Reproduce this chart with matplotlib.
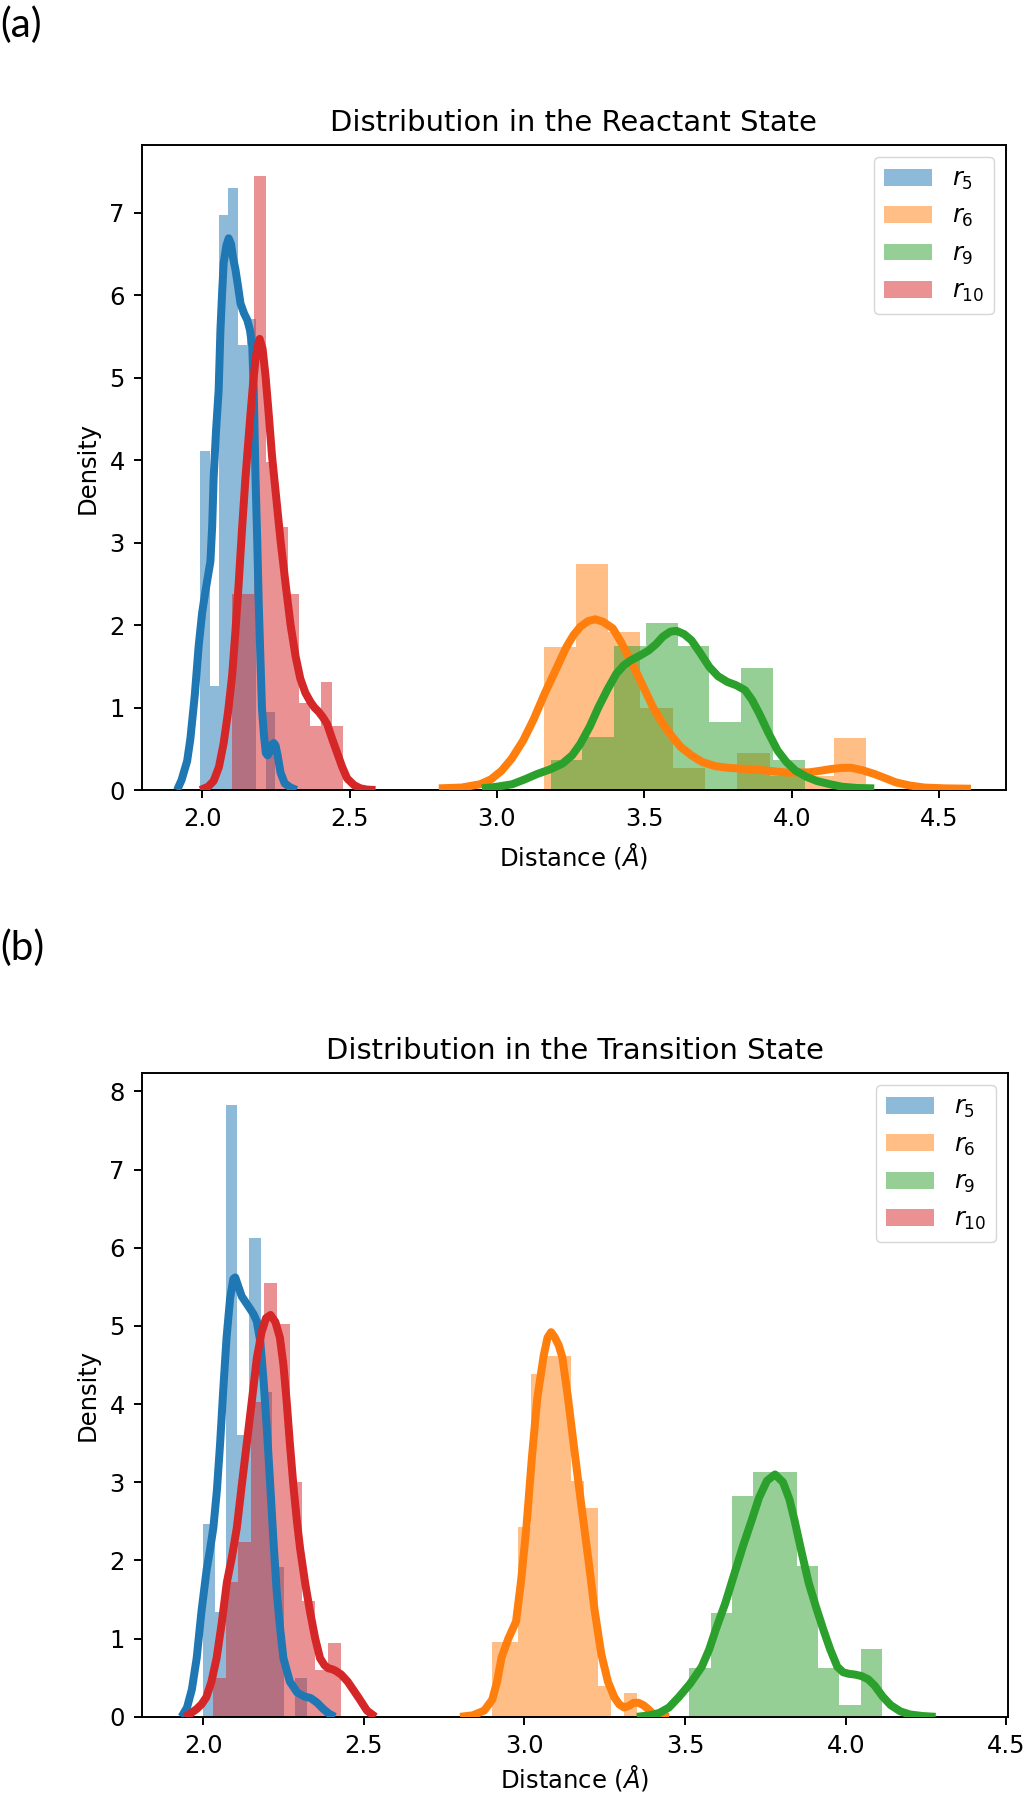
import matplotlib
matplotlib.use('Agg')
import matplotlib.pyplot as plt
import numpy as np

# original was drawn at ~174 dpi, we draw at 100 dpi
S = 1.743
plt.rcParams['font.family'] = ['DejaVu Sans']
plt.rcParams['font.size'] = 10 * S
plt.rcParams['axes.titlesize'] = 12 * S
plt.rcParams['axes.titlepad'] = 6 * S
plt.rcParams['axes.labelpad'] = 4 * S
plt.rcParams['axes.linewidth'] = 0.8 * S
plt.rcParams['legend.fontsize'] = 10 * S
for ax_name in ['xtick', 'ytick']:
    plt.rcParams[ax_name + '.major.size'] = 3.5 * S
    plt.rcParams[ax_name + '.major.width'] = 0.8 * S
    plt.rcParams[ax_name + '.major.pad'] = 3.5 * S

C5, C6, C9, C10 = '#1f77b4', '#ff7f0e', '#2ca02c', '#d62728'

# ===== (a) reactant state: histogram bin edges / densities =====
a_r5_edges = [1.994, 2.026, 2.057, 2.089, 2.121, 2.152, 2.184, 2.216, 2.247]
a_r5_dens = [4.11, 1.26, 6.97, 7.30, 5.39, 5.71, 0.0, 0.95]
a_r6_edges = [3.159, 3.268, 3.378, 3.487, 3.597, 3.706, 3.815, 3.925, 4.034, 4.144, 4.253]
a_r6_dens = [1.73, 2.735, 1.91, 1.00, 0.27, 0.0, 0.45, 0.17, 0.17, 0.63]
a_r9_edges = [3.182, 3.290, 3.398, 3.505, 3.613, 3.721, 3.829, 3.937, 4.044]
a_r9_dens = [0.365, 0.64, 1.75, 2.03, 1.75, 0.83, 1.475, 0.365]
a_r10_edges = [2.102, 2.140, 2.177, 2.215, 2.252, 2.290, 2.328, 2.365, 2.403, 2.440, 2.478]
a_r10_dens = [2.38, 2.38, 7.45, 3.98, 3.19, 2.38, 1.05, 0.78, 1.31, 0.78]

# kde curves
a_r5_kde_x = [1.915, 1.930, 1.949, 1.960, 1.975, 1.988, 2.000, 2.011, 2.020, 2.028, 2.034,
              2.039, 2.047, 2.056, 2.062, 2.068, 2.073, 2.082, 2.090, 2.098, 2.105, 2.113,
              2.122, 2.130, 2.142, 2.153, 2.162, 2.170, 2.175, 2.181, 2.187, 2.192, 2.198,
              2.203, 2.210, 2.216, 2.222, 2.230, 2.237, 2.243, 2.249, 2.256, 2.266, 2.280,
              2.300, 2.320]
a_r5_kde_y = [0.0, 0.12, 0.35, 0.62, 1.15, 1.74, 2.15, 2.41, 2.60, 2.77, 3.20,
              3.79, 4.35, 4.85, 5.58, 6.05, 6.39, 6.60, 6.69, 6.62, 6.45, 6.31,
              6.10, 5.90, 5.78, 5.70, 5.58, 5.38, 4.85, 3.79, 3.00, 2.26, 1.55,
              0.98, 0.65, 0.45, 0.42, 0.47, 0.55, 0.57, 0.54, 0.42, 0.21, 0.08,
              0.03, 0.0]
a_r6_kde_x = [2.803, 2.880, 2.943, 2.980, 3.016, 3.050, 3.089, 3.125, 3.162, 3.200, 3.235,
              3.260, 3.283, 3.310, 3.334, 3.360, 3.393, 3.420, 3.453, 3.478, 3.502, 3.530,
              3.563, 3.594, 3.624, 3.660, 3.696, 3.740, 3.782, 3.820, 3.867, 3.930, 3.988,
              4.061, 4.100, 4.134, 4.170, 4.201, 4.240, 4.280, 4.320, 4.353, 4.400, 4.450,
              4.520, 4.608]
a_r6_kde_y = [0.02, 0.03, 0.07, 0.13, 0.235, 0.38, 0.60, 0.86, 1.17, 1.46, 1.73,
              1.88, 1.98, 2.05, 2.07, 2.04, 1.96, 1.80, 1.57, 1.39, 1.21, 1.00,
              0.80, 0.65, 0.52, 0.42, 0.34, 0.29, 0.27, 0.26, 0.25, 0.23, 0.21,
              0.215, 0.235, 0.255, 0.268, 0.27, 0.24, 0.195, 0.14, 0.093, 0.055, 0.03,
              0.02, 0.016]
a_r9_kde_x = [2.949, 3.000, 3.052, 3.095, 3.137, 3.180, 3.222, 3.255, 3.283, 3.315, 3.344,
              3.375, 3.405, 3.430, 3.453, 3.485, 3.514, 3.540, 3.563, 3.588, 3.609, 3.635,
              3.660, 3.690, 3.721, 3.750, 3.782, 3.812, 3.842, 3.866, 3.891, 3.920, 3.952,
              3.982, 4.013, 4.050, 4.085, 4.130, 4.171, 4.220, 4.280]
a_r9_kde_y = [0.02, 0.04, 0.07, 0.13, 0.195, 0.25, 0.32, 0.42, 0.56, 0.77, 1.00,
              1.22, 1.41, 1.51, 1.57, 1.63, 1.69, 1.77, 1.86, 1.92, 1.93, 1.89,
              1.815, 1.66, 1.49, 1.38, 1.31, 1.27, 1.21, 1.09, 0.92, 0.70, 0.48,
              0.34, 0.235, 0.16, 0.11, 0.07, 0.04, 0.025, 0.02]
a_r10_kde_x = [1.994, 2.020, 2.039, 2.057, 2.073, 2.088, 2.102, 2.113, 2.124, 2.135, 2.147,
               2.156, 2.164, 2.172, 2.181, 2.188, 2.195, 2.205, 2.215, 2.226, 2.237, 2.252,
               2.266, 2.283, 2.300, 2.317, 2.333, 2.350, 2.367, 2.381, 2.395, 2.410, 2.424,
               2.441, 2.458, 2.475, 2.492, 2.515, 2.537, 2.560, 2.588]
a_r10_kde_y = [0.0, 0.04, 0.11, 0.28, 0.57, 0.95, 1.40, 1.93, 2.51, 3.15, 3.79,
               4.20, 4.56, 4.90, 5.22, 5.38, 5.47, 5.35, 5.02, 4.55, 4.05, 3.52,
               3.02, 2.50, 2.00, 1.62, 1.35, 1.18, 1.07, 1.00, 0.95, 0.88, 0.80,
               0.62, 0.45, 0.28, 0.14, 0.06, 0.02, 0.005, 0.0]

# ===== (b) transition state =====
b_r5_edges = [2.000, 2.036, 2.072, 2.107, 2.143, 2.179, 2.215, 2.251, 2.287, 2.322]
b_r5_dens = [2.47, 1.34, 7.82, 3.60, 6.13, 4.16, 1.91, 0.0, 0.5]
b_r6_edges = [2.899, 2.940, 2.981, 3.022, 3.063, 3.105, 3.146, 3.187, 3.228, 3.269, 3.310, 3.351]
b_r6_dens = [0.96, 0.96, 2.43, 4.39, 4.62, 4.62, 3.02, 2.67, 0.4, 0.0, 0.3]
b_r9_edges = [3.513, 3.580, 3.647, 3.713, 3.780, 3.847, 3.913, 3.980, 4.047, 4.113]
b_r9_dens = [0.62, 1.33, 2.83, 3.13, 3.13, 1.93, 0.62, 0.15, 0.87]
b_r10_edges = [2.031, 2.071, 2.110, 2.150, 2.191, 2.230, 2.269, 2.308, 2.348, 2.389, 2.429]
b_r10_dens = [0.5, 1.72, 2.23, 4.03, 5.55, 5.03, 3.00, 1.48, 0.6, 0.95]

b_r5_kde_x = [1.933, 1.950, 1.965, 1.980, 1.995, 2.011, 2.022, 2.032, 2.043, 2.053, 2.063,
              2.073, 2.084, 2.094, 2.100, 2.110, 2.120, 2.133, 2.146, 2.157, 2.167, 2.178,
              2.188, 2.199, 2.209, 2.219, 2.229, 2.240, 2.250, 2.270, 2.293, 2.315, 2.335,
              2.355, 2.374, 2.392, 2.410]
b_r5_kde_y = [0.0, 0.12, 0.35, 0.75, 1.35, 1.88, 2.15, 2.42, 2.90, 3.50, 4.20,
              4.85, 5.35, 5.60, 5.62, 5.50, 5.38, 5.30, 5.22, 5.15, 5.06, 4.80,
              4.31, 3.65, 2.96, 2.25, 1.61, 1.12, 0.75, 0.45, 0.31, 0.26, 0.24,
              0.18, 0.10, 0.04, 0.0]
b_r6_kde_x = [2.800, 2.840, 2.875, 2.900, 2.915, 2.929, 2.950, 2.974, 2.990, 3.007, 3.023,
              3.040, 3.060, 3.072, 3.083, 3.095, 3.107, 3.118, 3.135, 3.152, 3.168, 3.185,
              3.202, 3.218, 3.230, 3.240, 3.260, 3.280, 3.295, 3.310, 3.325, 3.340, 3.355,
              3.370, 3.385, 3.400, 3.425, 3.450]
b_r6_kde_y = [0.0, 0.02, 0.08, 0.22, 0.45, 0.76, 1.00, 1.22, 1.75, 2.46, 3.30,
              4.07, 4.62, 4.85, 4.92, 4.85, 4.75, 4.60, 4.10, 3.53, 3.00, 2.46,
              1.92, 1.38, 1.05, 0.79, 0.45, 0.25, 0.16, 0.12, 0.14, 0.18, 0.18,
              0.15, 0.10, 0.04, 0.01, 0.0]
b_r9_kde_x = [3.350, 3.390, 3.420, 3.450, 3.480, 3.515, 3.552, 3.575, 3.596, 3.625, 3.652,
              3.680, 3.707, 3.730, 3.755, 3.780, 3.805, 3.825, 3.841, 3.863, 3.885, 3.908,
              3.930, 3.952, 3.974, 3.992, 4.010, 4.030, 4.050, 4.070, 4.090, 4.115, 4.140,
              4.170, 4.200, 4.240, 4.280]
b_r9_kde_y = [0.0, 0.02, 0.05, 0.12, 0.25, 0.42, 0.64, 0.86, 1.12, 1.45, 1.81,
              2.18, 2.51, 2.80, 3.02, 3.10, 3.00, 2.78, 2.51, 2.10, 1.71, 1.40,
              1.12, 0.86, 0.64, 0.57, 0.55, 0.54, 0.52, 0.48, 0.40, 0.26, 0.15,
              0.07, 0.03, 0.01, 0.0]
b_r10_kde_x = [1.943, 1.960, 1.980, 1.995, 2.010, 2.026, 2.042, 2.058, 2.074, 2.090, 2.105,
               2.120, 2.136, 2.152, 2.167, 2.182, 2.196, 2.210, 2.225, 2.239, 2.250, 2.260,
               2.270, 2.281, 2.292, 2.302, 2.318, 2.333, 2.349, 2.364, 2.378, 2.390, 2.401,
               2.412, 2.430, 2.450, 2.470, 2.488, 2.510, 2.536]
b_r10_kde_y = [0.0, 0.04, 0.1, 0.16, 0.25, 0.45, 0.75, 1.20, 1.72, 2.05, 2.42,
               2.95, 3.50, 4.05, 4.58, 4.92, 5.10, 5.14, 5.05, 4.85, 4.50, 4.04,
               3.50, 2.96, 2.50, 2.15, 1.70, 1.34, 1.00, 0.75, 0.66, 0.62, 0.61,
               0.59, 0.54, 0.45, 0.33, 0.22, 0.08, 0.0]

labels = [r'$r_5$', r'$r_6$', r'$r_9$', r'$r_{10}$']
colors = [C5, C6, C9, C10]

fig = plt.figure(figsize=(10.3, 18), dpi=100)


def draw_panel(ax, hists, kdes, title, xlim, ylim):
    for (edges, dens), (kx, ky), lab, col in zip(hists, kdes, labels, colors):
        edges = np.array(edges)
        ax.bar(edges[:-1], dens, width=np.diff(edges), align='edge', color=col,
               alpha=0.5, linewidth=0, label=lab, zorder=2)
        ax.plot(kx, ky, color=col, linewidth=3.3 * S, zorder=3,
                solid_joinstyle='round', solid_capstyle='butt')
    ax.set_xlim(*xlim)
    ax.set_ylim(*ylim)
    ax.set_title(title)
    ax.set_xlabel(r'Distance ($Å$)')
    ax.set_ylabel('Density')
    ax.legend(loc='upper right')


ax1 = fig.add_axes([0.1376, 0.5611, 0.8391, 0.3583])
draw_panel(ax1,
           [(a_r5_edges, a_r5_dens), (a_r6_edges, a_r6_dens), (a_r9_edges, a_r9_dens), (a_r10_edges, a_r10_dens)],
           [(a_r5_kde_x, a_r5_kde_y), (a_r6_kde_x, a_r6_kde_y), (a_r9_kde_x, a_r9_kde_y), (a_r10_kde_x, a_r10_kde_y)],
           'Distribution in the Reactant State', (1.795, 4.727), (0, 7.82))

ax2 = fig.add_axes([0.1376, 0.0462, 0.841, 0.3575])
draw_panel(ax2,
           [(b_r5_edges, b_r5_dens), (b_r6_edges, b_r6_dens), (b_r9_edges, b_r9_dens), (b_r10_edges, b_r10_dens)],
           [(b_r5_kde_x, b_r5_kde_y), (b_r6_kde_x, b_r6_kde_y), (b_r9_kde_x, b_r9_kde_y), (b_r10_kde_x, b_r10_kde_y)],
           'Distribution in the Transition State', (1.809, 4.505), (0, 8.23))
ax2.xaxis.labelpad = 2 * S

fig.text(0.0, 0.9965, '(a)', fontsize=29, family=['Lato', 'DejaVu Sans'], va='top', ha='left')
fig.text(0.0, 0.4835, '(b)', fontsize=29, family=['Lato', 'DejaVu Sans'], va='top', ha='left')

plt.savefig('out.png', dpi=100, facecolor='white')
